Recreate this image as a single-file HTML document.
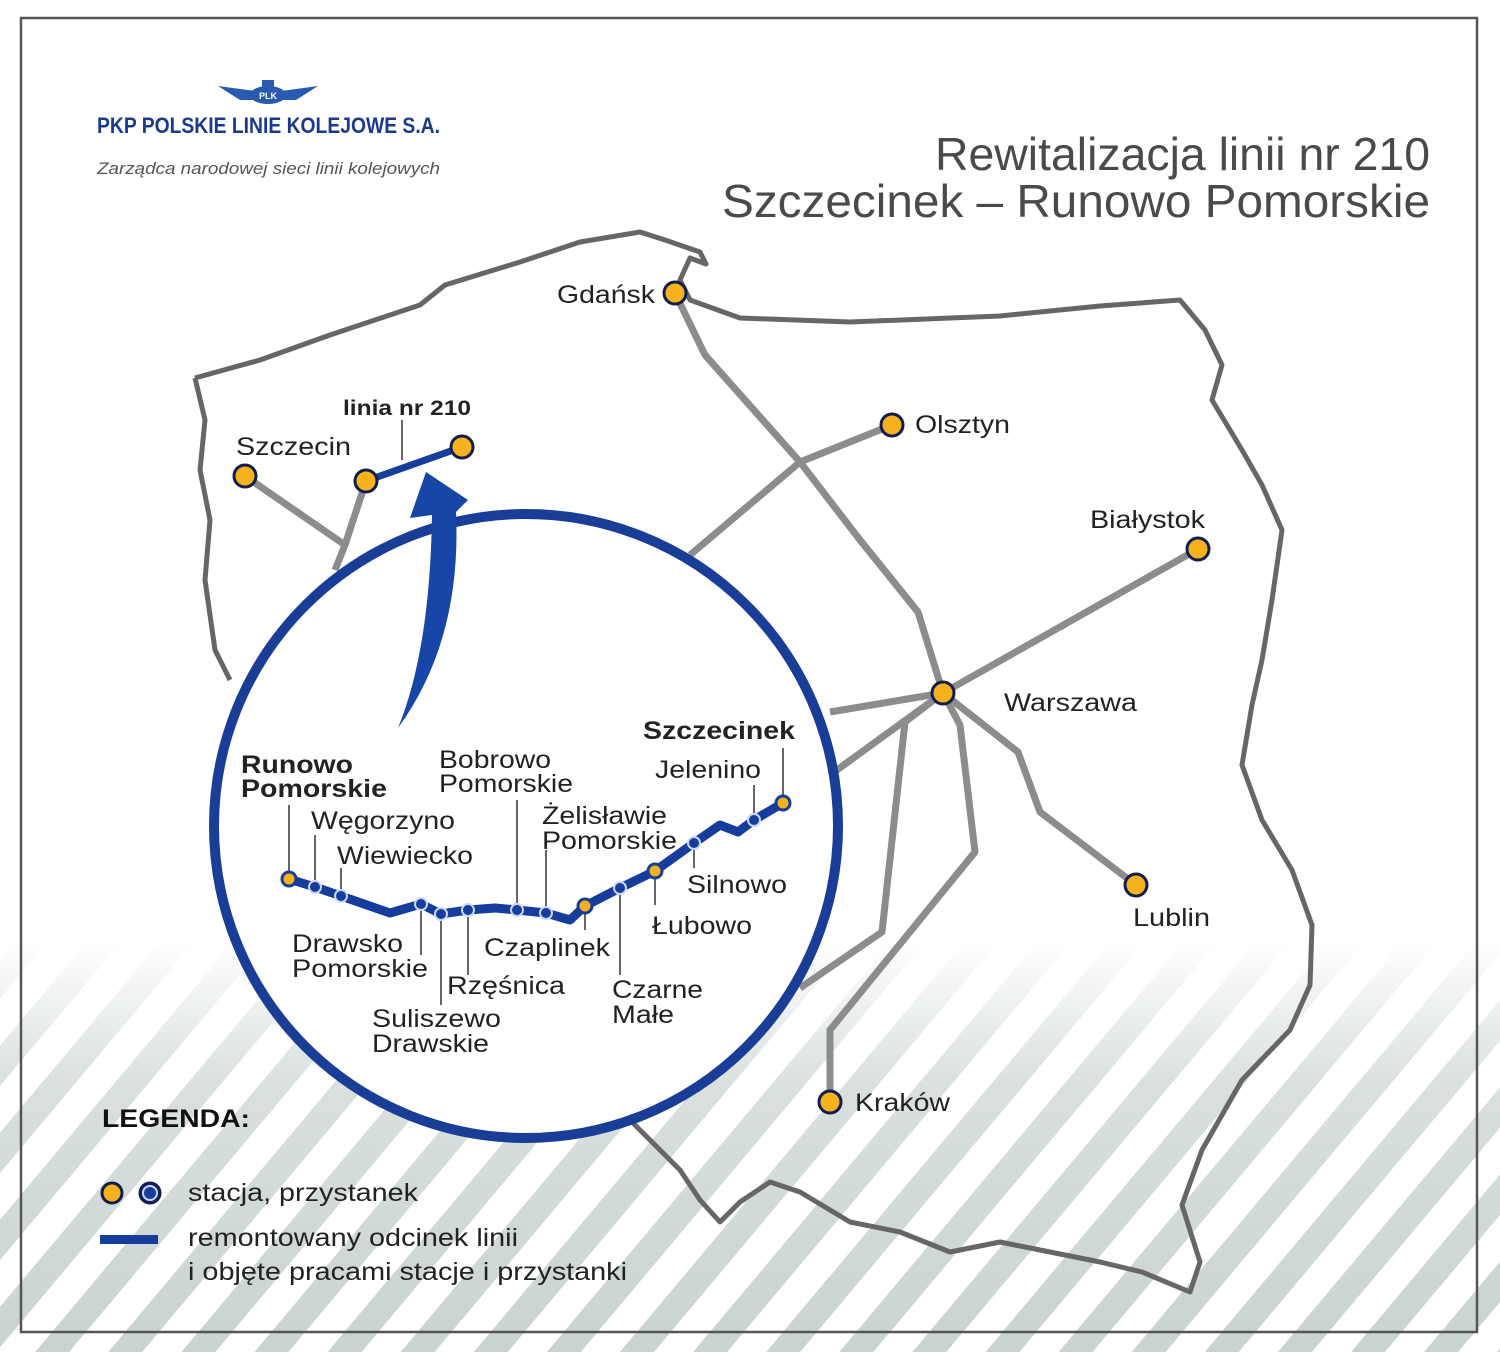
<!DOCTYPE html>
<html><head><meta charset="utf-8"><style>
html,body{margin:0;padding:0;background:#fff}
svg{display:block}
text{font-family:"Liberation Sans",sans-serif}
</style></head><body>
<svg width="1500" height="1352" viewBox="0 0 1500 1352" xmlns="http://www.w3.org/2000/svg">
<defs>
<pattern id="st" patternUnits="userSpaceOnUse" width="56" height="56" patternTransform="rotate(40)">
<rect x="0" y="0" width="26" height="56" fill="#c9d3d1"/>
</pattern>
<linearGradient id="fade" x1="0" y1="0" x2="0" y2="1">
<stop offset="0" stop-color="#fff" stop-opacity="1"/>
<stop offset="0.35" stop-color="#fff" stop-opacity="0.3"/>
<stop offset="1" stop-color="#fff" stop-opacity="0"/>
</linearGradient>
</defs>
<rect width="1500" height="1352" fill="#fff"/>
<rect x="0" y="940" width="1500" height="412" fill="url(#st)"/>
<rect x="0" y="940" width="1500" height="412" fill="url(#fade)"/>
<rect x="21" y="18" width="1456" height="1314" fill="none" stroke="#555" stroke-width="2.5"/>

<path d="M195,378 L260,360 L330,335 L420,305 L445,285 L520,262 L580,242 L640,232 L665,240 L700,252 L706,264 L690,258 L680,280 L690,300 L740,318 L850,322 L1000,316 L1100,306 L1180,300 L1205,330 L1222,365 L1212,400 L1242,450 L1262,485 L1282,530 L1272,600 L1262,660 L1252,705 L1242,765 L1262,820 L1292,870 L1312,925 L1310,985 L1290,1030 L1242,1080 L1202,1150 L1182,1205 L1200,1262 L1190,1292 L1142,1272 L1100,1262 L1050,1252 L1000,1242 L950,1252 L900,1232 L850,1222 L800,1192 L770,1182 L740,1202 L720,1222 L700,1200 L680,1170 L650,1140 L630,1120" fill="none" stroke="#666" stroke-width="5" stroke-linejoin="round"/>
<path d="M195,378 L205,420 L200,470 L210,520 L205,580 L215,650 L230,680" fill="none" stroke="#666" stroke-width="5" stroke-linejoin="round"/>

<g fill="none" stroke="#8c8c8c" stroke-width="7" stroke-linejoin="round">
<path d="M675,293 L705,355 L800,462 L860,540 L918,612 L943,693"/>
<path d="M892,425 L800,462 L690,555"/>
<path d="M1198,549 L943,693"/>
<path d="M943,693 L1018,752 L1040,812 L1136,885"/>
<path d="M943,693 L960,725 L975,852 L830,1030 L830,1102"/>
<path d="M943,693 L905,722 L882,932 L800,988"/>
<path d="M943,693 L830,712"/>
<path d="M943,693 L830,775"/>
<path d="M245,476 L345,545"/>
<path d="M366,481 L345,545 L335,570"/>
</g>
<path d="M366,481 L462,447" stroke="#163d9c" stroke-width="7"/>
<line x1="402" y1="420" x2="402" y2="460" stroke="#333" stroke-width="1.5"/>

<circle cx="526" cy="826" r="312" fill="#fff" stroke="#1a3d98" stroke-width="10"/>

<path d="M398,728 Q430,650 432,515 L410,518 L426,472 L468,500 L456,512 Q462,640 398,728 Z" fill="#1846a8"/>

<g stroke="#111d4e" stroke-width="3" fill="#f5b21c">
<circle cx="675" cy="293" r="11"/>
<circle cx="892" cy="425" r="11"/>
<circle cx="1198" cy="549" r="11"/>
<circle cx="943" cy="693" r="11"/>
<circle cx="1136" cy="885" r="11"/>
<circle cx="830" cy="1102" r="11"/>
<circle cx="245" cy="476" r="11"/>
<circle cx="366" cy="481" r="11"/>
<circle cx="462" cy="447" r="11"/>
</g>
<g font-size="25" fill="#222" lengthAdjust="spacingAndGlyphs">
<text x="557" y="303" textLength="98" lengthAdjust="spacingAndGlyphs">Gdańsk</text>
<text x="915" y="433" textLength="95" lengthAdjust="spacingAndGlyphs">Olsztyn</text>
<text x="1090" y="528" textLength="115" lengthAdjust="spacingAndGlyphs">Białystok</text>
<text x="1004" y="711" textLength="133" lengthAdjust="spacingAndGlyphs">Warszawa</text>
<text x="1133" y="926" textLength="77" lengthAdjust="spacingAndGlyphs">Lublin</text>
<text x="855" y="1111" textLength="95" lengthAdjust="spacingAndGlyphs">Kraków</text>
<text x="236" y="455" textLength="115" lengthAdjust="spacingAndGlyphs">Szczecin</text>
<text x="343" y="415" font-weight="bold" font-size="21" textLength="128" lengthAdjust="spacingAndGlyphs">linia nr 210</text>
</g>

<text x="935" y="170" font-size="46" fill="#4a4a4a" textLength="495" lengthAdjust="spacingAndGlyphs">Rewitalizacja linii nr 210</text>
<text x="722" y="217" font-size="46" fill="#4a4a4a" textLength="708" lengthAdjust="spacingAndGlyphs">Szczecinek – Runowo Pomorskie</text>

<g fill="#2a59b0">
<path d="M218,86 L262,92 L268,100 L240,100 Z"/>
<path d="M318,86 L274,92 L268,100 L296,100 Z"/>
<ellipse cx="268" cy="95" rx="18" ry="9"/>
<rect x="262" y="80" width="12" height="8"/>
</g>
<text x="268" y="99" text-anchor="middle" font-size="9" fill="#fff" font-family="Liberation Serif" font-weight="bold">PLK</text>
<text x="97" y="133" font-size="22" font-weight="bold" fill="#1b3a8c" textLength="343" lengthAdjust="spacingAndGlyphs">PKP POLSKIE LINIE KOLEJOWE S.A.</text>
<text x="97" y="174" font-size="17" font-style="italic" fill="#555" textLength="343" lengthAdjust="spacingAndGlyphs">Zarządca narodowej sieci linii kolejowych</text>

<g stroke="#333" stroke-width="1.5">
<line x1="289" y1="805" x2="289" y2="872"/>
<line x1="315" y1="835" x2="315" y2="880"/>
<line x1="341" y1="868" x2="341" y2="890"/>
<line x1="421" y1="910" x2="421" y2="955"/>
<line x1="441" y1="920" x2="441" y2="1005"/>
<line x1="468" y1="917" x2="468" y2="975"/>
<line x1="517" y1="800" x2="517" y2="903"/>
<line x1="546" y1="850" x2="546" y2="906"/>
<line x1="585" y1="912" x2="585" y2="930"/>
<line x1="620" y1="895" x2="620" y2="975"/>
<line x1="655" y1="878" x2="655" y2="905"/>
<line x1="694" y1="850" x2="694" y2="868"/>
<line x1="754" y1="785" x2="754" y2="815"/>
<line x1="783" y1="748" x2="783" y2="797"/>
</g>

<path d="M289,879 L315,887 L341,896 L390,913 L421,904 L441,914 L468,910 L495,908 L517,910 L546,913 L570,920 L585,906 L620,888 L655,871 L694,843 L720,825 L738,832 L754,820 L783,803" fill="none" stroke="#163d9c" stroke-width="9" stroke-linejoin="round"/>
<g fill="#f5b21c" stroke="#163d9c" stroke-width="3">
<circle cx="289" cy="879" r="7"/><circle cx="585" cy="906" r="7"/><circle cx="655" cy="871" r="7"/><circle cx="783" cy="803" r="7"/>
</g>
<g fill="#163d9c" stroke="#c9d6f5" stroke-width="2">
<circle cx="315" cy="887" r="6"/><circle cx="341" cy="896" r="6"/><circle cx="421" cy="904" r="6"/><circle cx="441" cy="914" r="6"/><circle cx="468" cy="910" r="6"/><circle cx="517" cy="910" r="6"/><circle cx="546" cy="913" r="6"/><circle cx="620" cy="888" r="6"/><circle cx="694" cy="843" r="6"/><circle cx="754" cy="820" r="6"/>
</g>

<g font-size="25" fill="#222">
<text x="241" y="773" font-weight="bold" textLength="112" lengthAdjust="spacingAndGlyphs">Runowo</text>
<text x="241" y="797" font-weight="bold" textLength="146" lengthAdjust="spacingAndGlyphs">Pomorskie</text>
<text x="311" y="829" textLength="144" lengthAdjust="spacingAndGlyphs">Węgorzyno</text>
<text x="337" y="864" textLength="136" lengthAdjust="spacingAndGlyphs">Wiewiecko</text>
<text x="439" y="768" textLength="112" lengthAdjust="spacingAndGlyphs">Bobrowo</text>
<text x="439" y="792" textLength="134" lengthAdjust="spacingAndGlyphs">Pomorskie</text>
<text x="542" y="824" textLength="125" lengthAdjust="spacingAndGlyphs">Żelisławie</text>
<text x="542" y="849" textLength="135" lengthAdjust="spacingAndGlyphs">Pomorskie</text>
<text x="643" y="739" font-weight="bold" textLength="152" lengthAdjust="spacingAndGlyphs">Szczecinek</text>
<text x="655" y="778" textLength="106" lengthAdjust="spacingAndGlyphs">Jelenino</text>
<text x="687" y="893" textLength="100" lengthAdjust="spacingAndGlyphs">Silnowo</text>
<text x="652" y="934" textLength="100" lengthAdjust="spacingAndGlyphs">Łubowo</text>
<text x="292" y="952" textLength="111" lengthAdjust="spacingAndGlyphs">Drawsko</text>
<text x="292" y="977" textLength="136" lengthAdjust="spacingAndGlyphs">Pomorskie</text>
<text x="484" y="956" textLength="126" lengthAdjust="spacingAndGlyphs">Czaplinek</text>
<text x="447" y="994" textLength="118" lengthAdjust="spacingAndGlyphs">Rzęśnica</text>
<text x="612" y="998" textLength="91" lengthAdjust="spacingAndGlyphs">Czarne</text>
<text x="612" y="1023" textLength="62" lengthAdjust="spacingAndGlyphs">Małe</text>
<text x="372" y="1027" textLength="129" lengthAdjust="spacingAndGlyphs">Suliszewo</text>
<text x="372" y="1052" textLength="117" lengthAdjust="spacingAndGlyphs">Drawskie</text>
</g>

<text x="102" y="1127" font-size="25" font-weight="bold" fill="#111" textLength="148" lengthAdjust="spacingAndGlyphs">LEGENDA:</text>
<circle cx="112" cy="1193" r="10" fill="#f5b21c" stroke="#111d4e" stroke-width="3"/>
<circle cx="150" cy="1193" r="10" fill="#163d9c" stroke="#111d4e" stroke-width="3"/>
<circle cx="150" cy="1193" r="7" fill="#163d9c" stroke="#c9d6f5" stroke-width="2"/>
<rect x="100" y="1235" width="58" height="9" fill="#163d9c"/>
<g font-size="25" fill="#222">
<text x="188" y="1201" textLength="230" lengthAdjust="spacingAndGlyphs">stacja, przystanek</text>
<text x="188" y="1246" textLength="330" lengthAdjust="spacingAndGlyphs">remontowany odcinek linii</text>
<text x="188" y="1280" textLength="439" lengthAdjust="spacingAndGlyphs">i objęte pracami stacje i przystanki</text>
</g>
</svg>
</body></html>
